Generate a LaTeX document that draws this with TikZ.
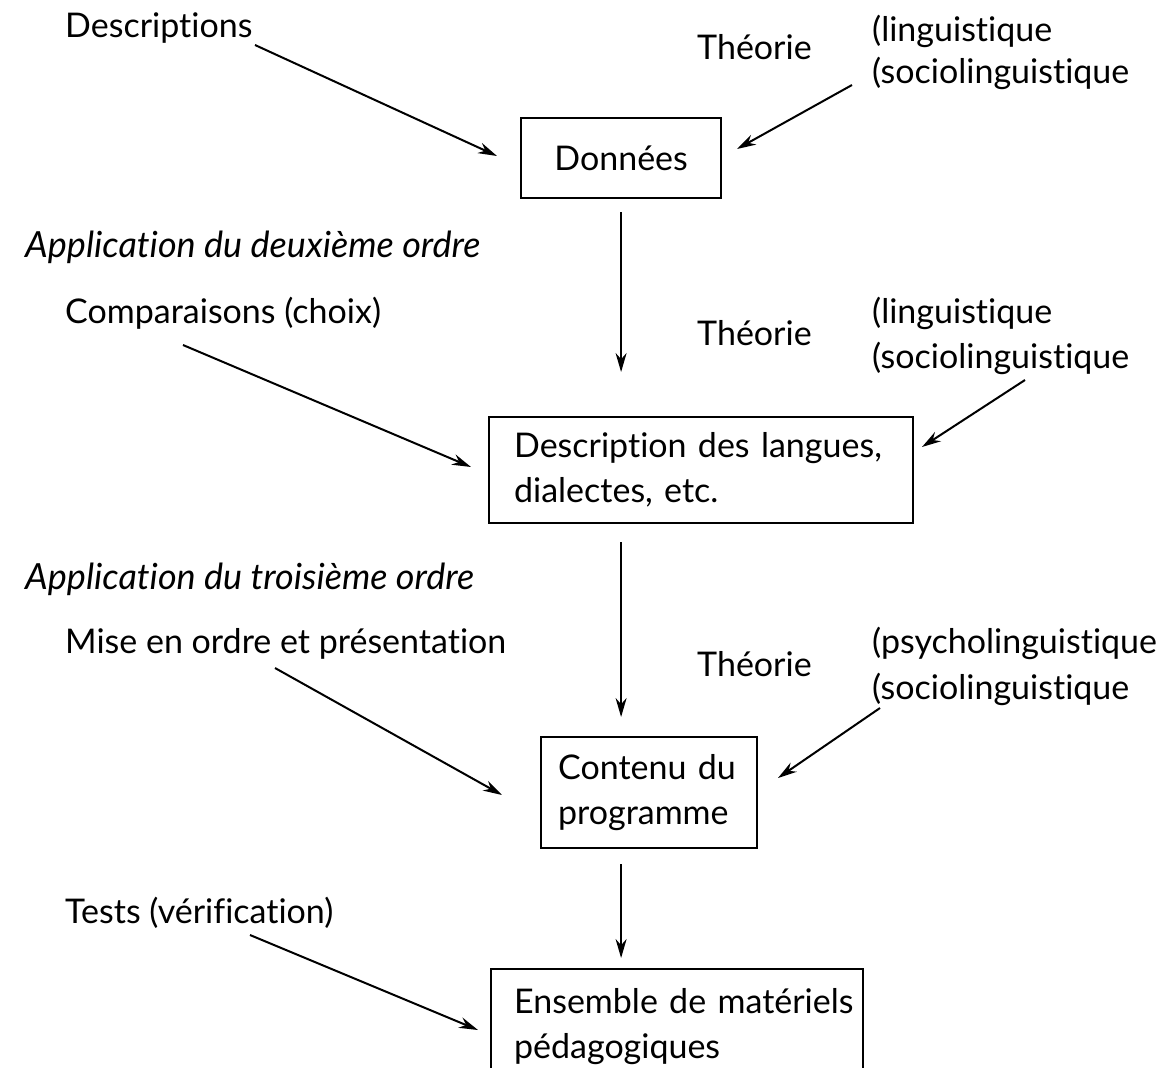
\documentclass[tikz,border=0pt]{standalone}
\usepackage{fontspec}
\setmainfont{Lato}[Ligatures={NoCommon,NoContextual}]
\usetikzlibrary{arrows.meta,calc}
\tikzset{
  lbl/.style={anchor=base west,inner sep=0pt,font=\fontsize{34}{45}\selectfont},
  ilbl/.style={anchor=base west,inner sep=0pt,font=\fontsize{36}{45}\selectfont\itshape},
  boxnode/.style={draw,line width=2.2pt,inner ysep=0pt,align=left,font=\fontsize{34}{45}\selectfont},
  arr/.style={line width=2pt,-{Stealth[length=19pt,width=11pt]}}
}
\begin{document}
\begin{tikzpicture}[x=1pt,y=-1pt]
\useasboundingbox (0,0) rectangle (1168,1068);
% labels
\node[lbl] (desc) at (65,37) {Descriptions};
\node[lbl] (th1) at (697,59) {Théorie};
\node[lbl] (l1a) at (872,41) {(linguistique};
\node[lbl] (l1b) at (872,83) {(sociolinguistique};
\node[ilbl] (app2) at (25,257) {Application du deuxième ordre};
\node[lbl] (comp) at (65,323) {Comparaisons (choix)};
\node[lbl] (th2) at (697,345) {Théorie};
\node[lbl] (l2a) at (872,323) {(linguistique};
\node[lbl] (l2b) at (872,368) {(sociolinguistique};
\node[ilbl] (app3) at (25,589) {Application du troisième ordre};
\node[lbl] (mise) at (65,653) {Mise en ordre et présentation};
\node[lbl] (th3) at (697,676) {Théorie};
\node[lbl] (l3a) at (872,653) {(psycholinguistique};
\node[lbl] (l3b) at (872,699) {(sociolinguistique};
\node[lbl] (tests) at (65,923) {Tests (vérification)};
% boxes
\node[boxnode,anchor=north west,minimum width=200,minimum height=80,align=center] (b1) at (520,117) {Données};
\node[boxnode,anchor=north west,minimum width=424,minimum height=106,inner xsep=25pt,text width=374pt] (b2) at (488,416) {\mbox{Description des langues,}\\\mbox{dialectes, etc.}};
\node[boxnode,anchor=north west,minimum width=216,minimum height=111,inner xsep=17pt,text width=182pt] (b3) at (540,736) {\mbox{Contenu du}\\\mbox{programme}};
\node[boxnode,anchor=north west,minimum width=372,minimum height=115,inner xsep=23pt,text width=326pt] (b4) at (490,968) {\mbox{Ensemble de matériels}\\\mbox{pédagogiques}};
% free ends
\coordinate (s1) at (255,45);   \coordinate (e1) at (497,156);
\coordinate (s2) at (852,85);   \coordinate (e2) at (737,149);
\coordinate (s3) at (183,345);  \coordinate (e3) at (471,467);
\coordinate (s4) at (1025,380); \coordinate (e4) at (922,447);
\coordinate (s5) at (275,668);  \coordinate (e5) at (502,795);
\coordinate (s6) at (880,708);  \coordinate (e6) at (778,778);
\coordinate (s7) at (250,935);  \coordinate (e7) at (478,1030);
% diagonal connectors
\draw[arr] (s1) -- (e1);
\draw[arr] (s2) -- (e2);
\draw[arr] (s3) -- (e3);
\draw[arr] (s4) -- (e4);
\draw[arr] (s5) -- (e5);
\draw[arr] (s6) -- (e6);
\draw[arr] (s7) -- (e7);
% vertical connectors
\draw[arr,shorten <=13pt,shorten >=44pt] (b1.south) -- (b1.south |- b2.north);
\draw[arr,shorten <=18pt,shorten >=19pt] (b1.south |- b2.south) -- (b1.south |- b3.north);
\draw[arr,shorten <=15pt,shorten >=10pt] (b1.south |- b3.south) -- (b1.south |- b4.north);
\end{tikzpicture}
\end{document}
